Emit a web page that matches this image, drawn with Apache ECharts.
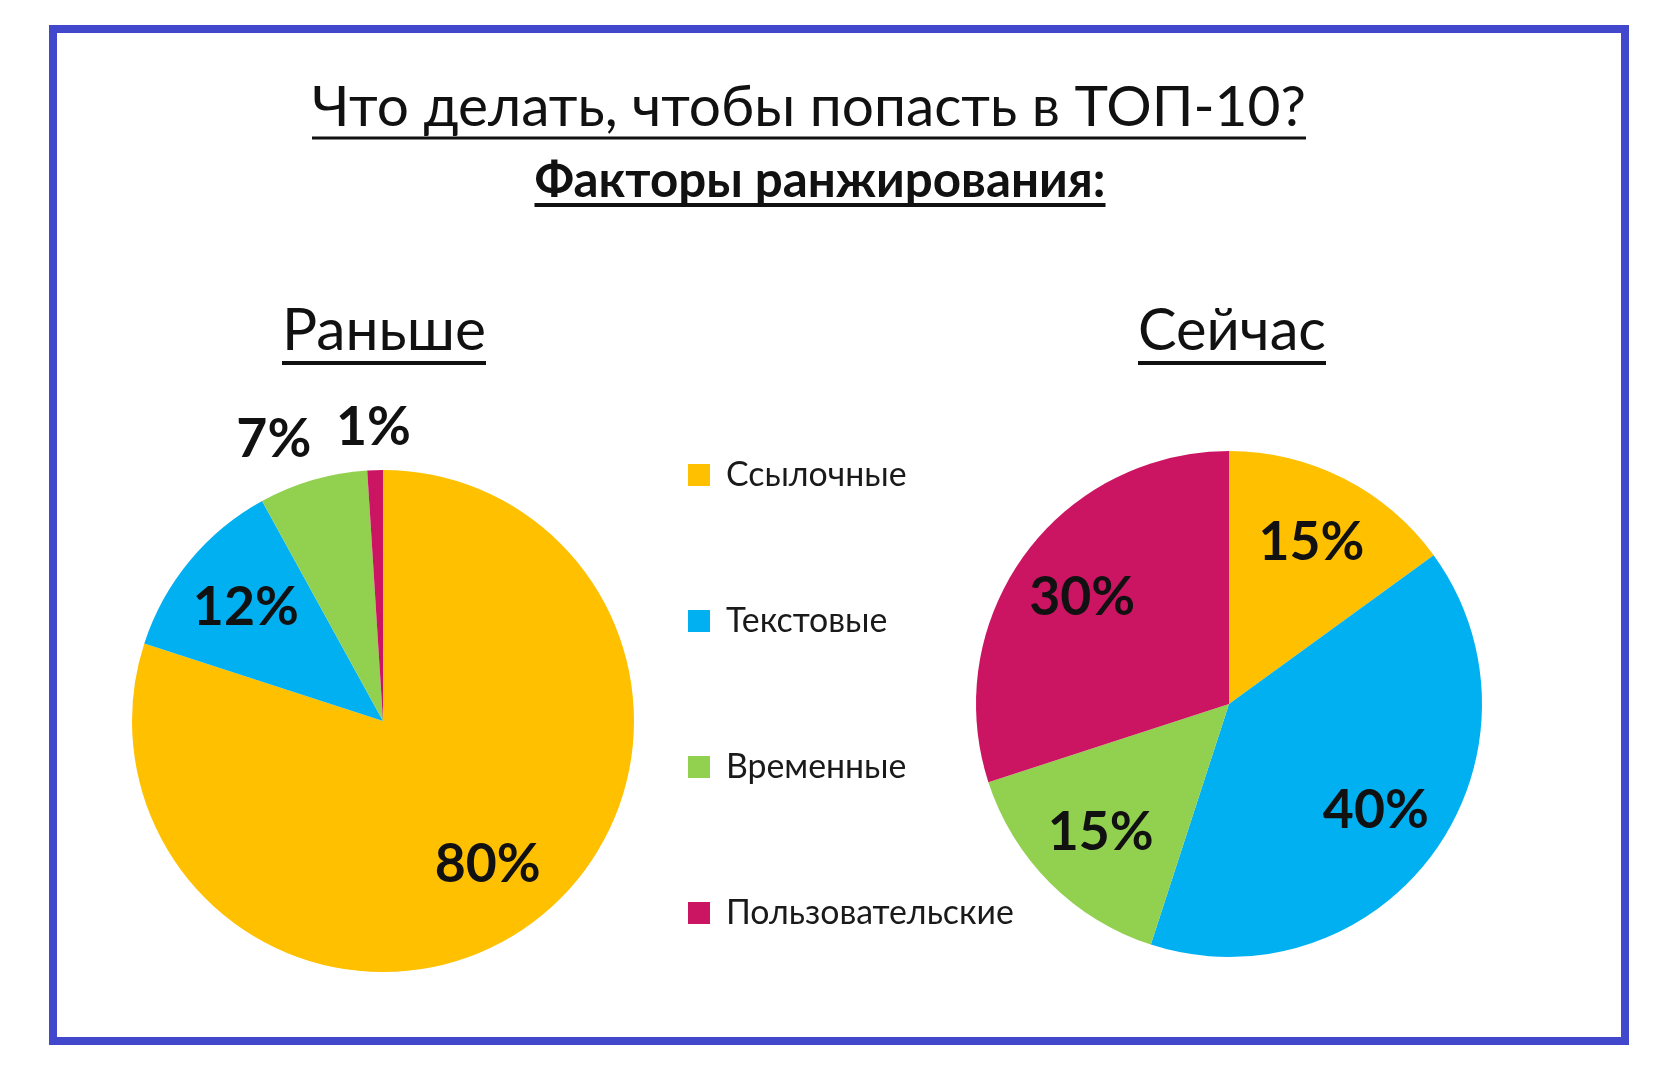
<!DOCTYPE html>
<html>
<head>
<meta charset="utf-8">
<script src="https://cdn.jsdelivr.net/npm/echarts@6/dist/echarts.min.js"></script>
<style>
  html, body { margin: 0; padding: 0; background: #fff; }
  #main { width: 1680px; height: 1074px; }
</style>
</head>
<body>
<div id="main"></div>
<script>
const categories = ['Ссылочные', 'Текстовые', 'Временные', 'Пользовательские'];
const beforeValues = [80, 12, 7, 1];
const nowValues = [15, 40, 15, 30];
const colors = ['#FFC000', '#00B0F0', '#92D050', '#CC1562'];

const mainTitle = 'Что делать, чтобы попасть в ТОП-10?';
const subTitle = 'Факторы ранжирования:';
const beforeTitle = 'Раньше';
const nowTitle = 'Сейчас';

// small slices of the left pie get their labels outside the circle,
// pulled sideways by this much so they sit like in the picture
const beforeOutside = [false, false, true, true];
const outsideShift = [0, 0, -10, -37];

const FONT = 'Lato, "Open Sans", sans-serif';

// font size that makes a text as wide as in the picture
const ctx = document.createElement('canvas').getContext('2d');
function fitSize(text, weight, width) {
  ctx.font = weight + ' 100px ' + FONT;
  return 100 * width / ctx.measureText(text).width;
}

// underlined heading: text centred on cx, caps centred on cy, line at lineY
function heading(text, weight, cx, cy, width, lineY, lineW) {
  const size = fitSize(text, weight, width);
  return [
    {
      type: 'text', x: cx, y: cy, silent: true,
      style: {
        text: text, fill: '#111', align: 'center', verticalAlign: 'middle',
        font: weight + ' ' + size.toFixed(1) + 'px ' + FONT
      }
    },
    {
      type: 'line', silent: true,
      shape: { x1: cx - width / 2, y1: lineY, x2: cx + width / 2, y2: lineY },
      style: { stroke: '#111', lineWidth: lineW }
    }
  ];
}

const labelSize = fitSize('80%', 'bold', 106);
const legendSize = fitSize('Пользовательские', 'normal', 288);

function pieData(values, showLabel) {
  return categories.map((name, i) => ({
    name: name,
    value: values[i],
    label: { show: showLabel ? showLabel(i) : false }
  }));
}

const labelStyle = {
  formatter: '{c}%',
  color: '#111',
  fontFamily: FONT,
  fontWeight: 'bold',
  fontSize: labelSize
};

// transparent ring that only carries the inside labels
function overlay(center, radius, values, showLabel) {
  return {
    type: 'pie',
    center: center,
    radius: radius,
    startAngle: 90,
    silent: true,
    legendHoverLink: false,
    itemStyle: { color: 'transparent' },
    emphasis: { disabled: true },
    labelLine: { show: false },
    label: Object.assign({ position: 'inside' }, labelStyle),
    data: pieData(values, showLabel)
  };
}

const leftCenter = [383, 721];
const rightCenter = [1229, 704];

const beforeData = categories.map((name, i) => ({
  name: name,
  value: beforeValues[i],
  label: { show: beforeOutside[i], distanceToLabelLine: outsideShift[i] }
}));

const chart = echarts.init(document.getElementById('main'));
chart.setOption({
  backgroundColor: '#fff',
  color: colors,
  animation: false,
  legend: {
    orient: 'vertical',
    left: 683,
    top: 453,
    itemWidth: 22,
    itemHeight: 22,
    itemGap: 112,
    icon: 'rect',
    selectedMode: false,
    data: categories,
    textStyle: {
      fontFamily: FONT,
      fontSize: legendSize,
      lineHeight: 32,
      color: '#1a1a1a',
      padding: [0, 0, 0, 11]
    }
  },
  graphic: [
    {
      type: 'rect', silent: true,
      shape: { x: 53, y: 29, width: 1572, height: 1012 },
      style: { fill: 'none', stroke: '#4148CC', lineWidth: 8 }
    },
    ...heading(mainTitle, 'normal', 809, 108, 994, 138, 3),
    ...heading(subTitle, 'bold', 820, 181, 571, 205, 4),
    ...heading(beforeTitle, 'normal', 384, 331, 204, 363, 4),
    ...heading(nowTitle, 'normal', 1232, 331, 188, 363, 4)
  ],
  series: [
    {
      type: 'pie',
      center: leftCenter,
      radius: 251,
      startAngle: 90,
      silent: true,
      avoidLabelOverlap: false,
      labelLayout: { hideOverlap: false },
      label: Object.assign({ position: 'outside' }, labelStyle),
      labelLine: { show: false, length: 42, length2: 0 },
      data: beforeData
    },
    {
      type: 'pie',
      center: rightCenter,
      radius: 253,
      startAngle: 90,
      silent: true,
      label: { show: false },
      labelLine: { show: false },
      data: pieData(nowValues)
    },
    overlay(leftCenter, [99, 251], beforeValues, i => !beforeOutside[i]),
    overlay(rightCenter, [104, 253], nowValues, () => true)
  ]
});
</script>
</body>
</html>
